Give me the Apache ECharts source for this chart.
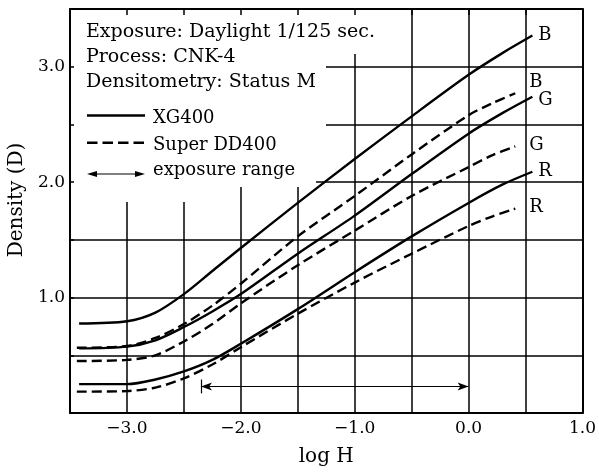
<!DOCTYPE html>
<html>
<head>
<meta charset="utf-8">
<script src="https://cdn.jsdelivr.net/npm/echarts@6/dist/echarts.min.js"></script>
<style>
html,body{margin:0;padding:0;background:#fff;}
#chart{width:599px;height:474px;}
</style>
</head>
<body>
<div id="chart"></div>
<script>
// ---- data ----
const logH_XG = [-3.42, -3.0, -2.75, -2.5, -2.25, -2.0, -1.5, -1.0, -0.5, 0.0, 0.3, 0.56];
const XG400_B = [0.775, 0.795, 0.87, 1.03, 1.23, 1.43, 1.82, 2.20, 2.57, 2.93, 3.12, 3.27];
const XG400_G = [0.56, 0.575, 0.63, 0.745, 0.88, 1.03, 1.38, 1.71, 2.07, 2.42, 2.60, 2.74];
const XG400_R = [0.25, 0.25, 0.29, 0.36, 0.46, 0.60, 0.90, 1.22, 1.53, 1.82, 1.98, 2.09];

const logH_DD = [-3.44, -3.0, -2.75, -2.5, -2.25, -2.0, -1.5, -1.0, -0.5, 0.0, 0.2, 0.41];
const DD400_B = [0.565, 0.58, 0.65, 0.77, 0.93, 1.12, 1.53, 1.88, 2.24, 2.58, 2.68, 2.77];
const DD400_G = [0.45, 0.46, 0.50, 0.62, 0.77, 0.95, 1.28, 1.58, 1.88, 2.13, 2.23, 2.31];
const DD400_R = [0.185, 0.19, 0.22, 0.30, 0.42, 0.57, 0.86, 1.13, 1.38, 1.62, 1.70, 1.77];

const exposureRange = [-2.35, 0.0];   // log H from .. to
const exposureRangeLevel = 0.23;      // density where the arrow is drawn
const exposureRangeBar = [0.17, 0.29];

const xTickValues = [-3, -2, -1, 0, 1];
const xTickLabels = ['\u22123.0', '\u22122.0', '\u22121.0', '0.0', '1.0'];
const yTickValues = [1, 2, 3];
const yTickLabels = ['1.0', '2.0', '3.0'];

const headerLines = ['Exposure: Daylight 1/125 sec.', 'Process: CNK-4', 'Densitometry: Status M'];
const legendNames = ['XG400', 'Super DD400', 'exposure range'];
const layerNames = ['B', 'G', 'R'];

// ---- chart ----
const SERIF = 'DejaVu Serif';
const FONT = '18px "DejaVu Serif"';
const HFONT = '19px "DejaVu Serif"';
const zip = (xs, ys) => xs.map((x, i) => [x, ys[i]]);

function curve(name, xs, ys, dashed, label, off) {
  return {
    name: name, type: 'line', xAxisIndex: 0, yAxisIndex: 0,
    data: zip(xs, ys), showSymbol: false, symbol: 'none',
    smooth: 0.3, z: 2, silent: true,
    lineStyle: { color: '#000', width: 2.4, type: dashed ? [10, 5] : 'solid' },
    endLabel: { show: true, formatter: label, color: '#000', fontFamily: SERIF, fontSize: 18,
      distance: off[0], offset: [0, off[1]] }
  };
}

const chart = echarts.init(document.getElementById('chart'), null, { renderer: 'canvas' });

const option = {
  animation: false,
  backgroundColor: '#fff',
  grid: { left: 70, right: 14, top: 9, bottom: 61, containLabel: false },
  xAxis: [
    { type: 'value', position: 'bottom', min: -3.5, max: 1.0, interval: 0.5, z: 0,
      axisLine: { show: true, onZero: false, lineStyle: { color: '#000', width: 2 } },
      axisTick: { show: false },
      splitLine: { show: true, lineStyle: { color: '#000', width: 1.5 } },
      axisLabel: { color: '#000', fontFamily: SERIF, fontSize: 17, margin: 7,
        formatter: v => { const i = xTickValues.findIndex(t => Math.abs(t - v) < 1e-9); return i >= 0 ? xTickLabels[i] : ''; } },
      name: 'log H', nameLocation: 'middle', nameGap: 34,
      nameTextStyle: { color: '#000', fontFamily: SERIF, fontSize: 20 } },
    { type: 'value', position: 'top', min: -3.5, max: 1.0, interval: 0.5, z: 3,
      axisLine: { show: true, onZero: false, lineStyle: { color: '#000', width: 2 } },
      axisTick: { show: true, inside: true, length: 6, lineStyle: { color: '#000', width: 1.5 } },
      splitLine: { show: false }, axisLabel: { show: false } }
  ],
  yAxis: [
    { type: 'value', position: 'left', min: 0, max: 3.5, interval: 0.5, z: 3,
      axisLine: { show: true, onZero: false, lineStyle: { color: '#000', width: 2 } },
      axisTick: { show: true, inside: true, length: 4, lineStyle: { color: '#000', width: 1.5 } },
      splitLine: { show: false },
      axisLabel: { color: '#000', fontFamily: SERIF, fontSize: 17, margin: 5,
        formatter: v => { const i = yTickValues.findIndex(t => Math.abs(t - v) < 1e-9); return i >= 0 ? yTickLabels[i] : ''; } } },
    { type: 'value', position: 'right', min: 0, max: 3.5, interval: 0.5, z: 0,
      axisLine: { show: true, onZero: false, lineStyle: { color: '#000', width: 2 } },
      axisTick: { show: false }, axisLabel: { show: false },
      splitLine: { show: true, lineStyle: { color: '#000', width: 1.5 } } }
  ],
  series: [
    curve('XG400 B', logH_XG, XG400_B, false, layerNames[0], [6, 0]),
    curve('XG400 G', logH_XG, XG400_G, false, layerNames[1], [6, 4]),
    curve('XG400 R', logH_XG, XG400_R, false, layerNames[2], [6, 0]),
    curve('Super DD400 B', logH_DD, DD400_B, true, layerNames[0], [14, -11]),
    curve('Super DD400 G', logH_DD, DD400_G, true, layerNames[1], [14, -1]),
    curve('Super DD400 R', logH_DD, DD400_R, true, layerNames[2], [14, -1]),
    { name: 'exposure range', type: 'line', xAxisIndex: 0, yAxisIndex: 0, data: [], z: 2,
      markLine: { silent: true, animation: false, label: { show: false },
        symbol: ['arrow', 'arrow'], symbolSize: [6, 11],
        lineStyle: { color: '#000', width: 1.2, type: 'solid' },
        data: [
          [{ coord: [exposureRange[0], exposureRangeLevel] }, { coord: [exposureRange[1], exposureRangeLevel] }],
          [{ coord: [exposureRange[0], exposureRangeBar[0]], symbol: 'none' }, { coord: [exposureRange[0], exposureRangeBar[1]], symbol: 'none' }]
        ] } }
  ],
  graphic: { elements: [
    { type: 'polygon', z: 1, silent: true,
      shape: { points: [[71, 10], [378, 10], [378, 54], [326, 54], [326, 150], [316, 150], [316, 187], [215, 187], [215, 202], [71, 202]] },
      style: { fill: '#fff' } },
    { type: 'text', z: 4, x: 86, y: 32, style: { text: headerLines[0], font: HFONT, fill: '#000', verticalAlign: 'middle' } },
    { type: 'text', z: 4, x: 86, y: 57.5, style: { text: headerLines[1], font: HFONT, fill: '#000', verticalAlign: 'middle' } },
    { type: 'text', z: 4, x: 86, y: 82.5, style: { text: headerLines[2], font: HFONT, fill: '#000', verticalAlign: 'middle' } },
    { type: 'line', z: 4, shape: { x1: 87, y1: 115.5, x2: 145, y2: 115.5 }, style: { stroke: '#000', lineWidth: 2.4 } },
    { type: 'text', z: 4, x: 153, y: 118.5, style: { text: legendNames[0], font: FONT, fill: '#000', verticalAlign: 'middle' } },
    { type: 'line', z: 4, shape: { x1: 87, y1: 142.7, x2: 145, y2: 142.7 }, style: { stroke: '#000', lineWidth: 2.4, lineDash: [10.5, 5] } },
    { type: 'text', z: 4, x: 153, y: 145, style: { text: legendNames[1], font: FONT, fill: '#000', verticalAlign: 'middle' } },
    { type: 'line', z: 4, shape: { x1: 93, y1: 174, x2: 139, y2: 174 }, style: { stroke: '#000', lineWidth: 1.2 } },
    { type: 'polygon', z: 4, shape: { points: [[87, 174], [97, 171], [97, 177]] }, style: { fill: '#000' } },
    { type: 'polygon', z: 4, shape: { points: [[145, 174], [135, 171], [135, 177]] }, style: { fill: '#000' } },
    { type: 'text', z: 4, x: 153, y: 170.5, style: { text: legendNames[2], font: FONT, fill: '#000', verticalAlign: 'middle' } },
    { type: 'text', z: 4, x: 17, y: 200, rotation: Math.PI / 2,
      style: { text: 'Density (D)', font: '20px "DejaVu Serif"', fill: '#000', align: 'center', verticalAlign: 'middle' } }
  ] }
};
chart.setOption(option);
</script>
</body>
</html>
